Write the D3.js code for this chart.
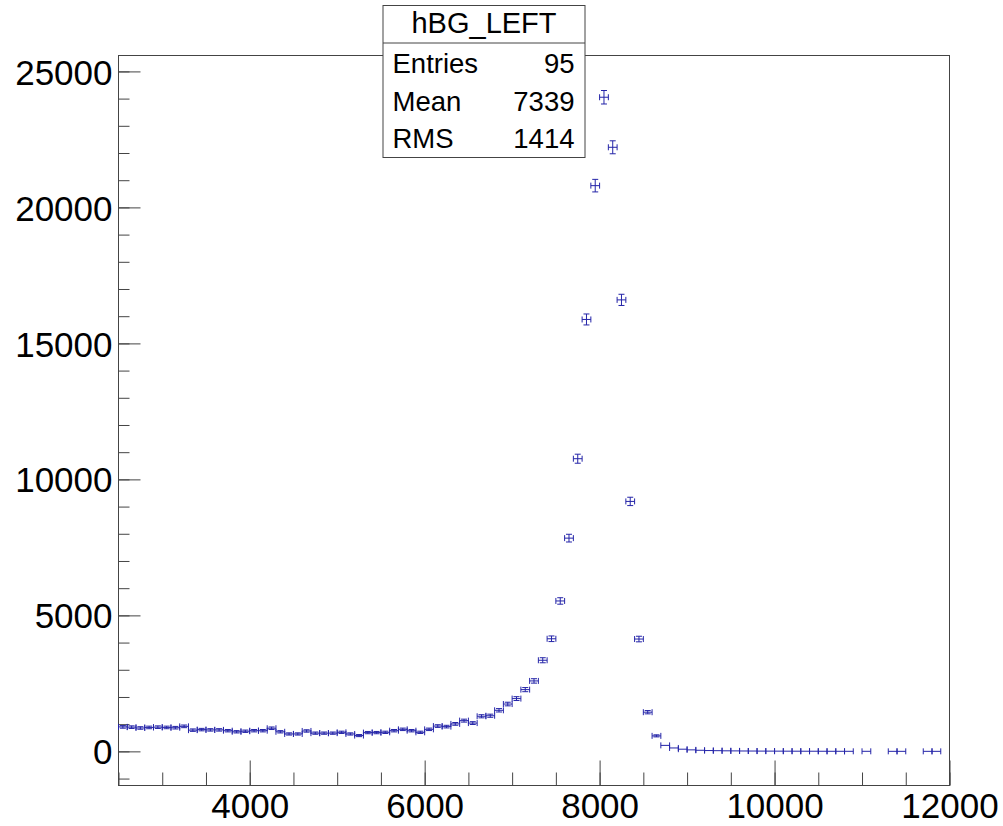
<!DOCTYPE html>
<html>
<head>
<meta charset="utf-8">
<script src="https://cdn.jsdelivr.net/npm/d3@7"></script>
<style>
	body { margin: 0; background: #fff; }
	svg text { font-family: "Liberation Sans", Arial, Helvetica, sans-serif; fill: #000; }
	.frame { fill: none; stroke: #444; stroke-width: 1; }
	.axis path { display: none; }
	.axis line { stroke: #444; stroke-width: 1; }
	.bin line { stroke: #2424a8; stroke-width: 1; }
</style>
</head>
<body>
<div id="histDiv"></div>
<script>
// histogram hBG_LEFT : bin centres and contents
const binCenters = [
	2550, 2650, 2750, 2850, 2950, 3050, 3150, 3250, 3350, 3450,
	3550, 3650, 3750, 3850, 3950, 4050, 4150, 4250, 4350, 4450,
	4550, 4650, 4750, 4850, 4950, 5050, 5150, 5250, 5350, 5450,
	5550, 5650, 5750, 5850, 5950, 6050, 6150, 6250, 6350, 6450,
	6550, 6650, 6750, 6850, 6950, 7050, 7150, 7250, 7350, 7450,
	7550, 7650, 7750, 7850, 7950, 8050, 8150, 8250, 8350, 8450,
	8550, 8650, 8750, 8850, 8950, 9050, 9150, 9250, 9350, 9450,
	9550, 9650, 9750, 9850, 9950, 10050, 10150, 10250, 10350, 10450,
	10550, 10650, 10750, 10850, 10950, 11050, 11150, 11250, 11350, 11450,
	11550, 11650, 11750, 11850, 11950
];
const binContents = [
	900, 890, 860, 880, 890, 880, 870, 920, 780, 800,
	790, 790, 760, 720, 740, 760, 760, 850, 720, 640,
	640, 750, 670, 670, 670, 700, 640, 580, 690, 690,
	700, 760, 810, 760, 700, 810, 930, 910, 1010, 1130,
	1040, 1290, 1310, 1510, 1740, 1940, 2270, 2590, 3350, 4140,
	5530, 7840, 10760, 15880, 20800, 24050, 22210, 16600, 9190, 4130,
	1440, 570, 220, 125, 80, 55, 40, 30, 25, 20,
	17, 14, 12, 10, 9, 8, 7, 6, 5, 5,
	4, 3, 3, 2, 0, 2, 0, 0, 1, 1,
	0, 0, 1, 1, 0
];
const binWidth = 100;
const fillWeight = 2.56;   // each fill had this weight -> error = sqrt(sum w^2)

const xTickValues = [4000, 6000, 8000, 10000, 12000];
const yTickValues = [0, 5000, 10000, 15000, 20000, 25000];
const xMinorValues = [2500, 3000, 3500, 4000, 4500, 5000, 5500, 6000, 6500, 7000, 7500, 8000, 8500, 9000, 9500, 10000, 10500, 11000, 11500, 12000];
const yMinorValues = [-1000, 0, 1000, 2000, 3000, 4000, 5000, 6000, 7000, 8000, 9000, 10000, 11000, 12000, 13000, 14000, 15000, 16000, 17000, 18000, 19000, 20000, 21000, 22000, 23000, 24000, 25000];

const histName = "hBG_LEFT";
const statLabels = ["Entries", "Mean", "RMS"];
const statValues = ["95", "7339", "1414"];

function drawHist(){
	let width = 1003, height = 826;
	let frameLeft = 118.5, frameRight = 949.5, frameTop = 55.5, frameBottom = 785.5;

	let svg = d3.select("#histDiv")
				.append("svg")
				.attr("width", width)
				.attr("height", height);

	let xScale = d3.scaleLinear()
				.domain([2500, 12000])
				.range([frameLeft, frameRight]);

	let yScale = d3.scaleLinear()
				.domain([-1255, 25585])
				.range([frameBottom, frameTop]);

	// frame
	svg.append("rect")
		.attr("class", "frame")
		.attr("x", frameLeft)
		.attr("y", frameTop)
		.attr("width", frameRight - frameLeft)
		.attr("height", frameBottom - frameTop);

	// minor ticks (inside the frame, like ROOT)
	svg.append("g")
		.attr("class", "axis")
		.attr("transform", "translate(0," + frameBottom + ")")
		.call(d3.axisBottom(xScale).tickValues(xMinorValues).tickSize(-13).tickFormat(""));
	svg.append("g")
		.attr("class", "axis")
		.attr("transform", "translate(" + frameLeft + ",0)")
		.call(d3.axisLeft(yScale).tickValues(yMinorValues).tickSize(-11).tickFormat(""));

	// major ticks + labels
	let xAxis = svg.append("g")
		.attr("class", "axis")
		.attr("transform", "translate(0," + frameBottom + ")")
		.call(d3.axisBottom(xScale).tickValues(xTickValues).tickSize(-25).tickPadding(7).tickFormat(d3.format("d")));
	xAxis.selectAll("text")
		.attr("dy", null)
		.attr("y", 32.5)
		.style("font-size", "35px");

	let yAxis = svg.append("g")
		.attr("class", "axis")
		.attr("transform", "translate(" + frameLeft + ",0)")
		.call(d3.axisLeft(yScale).tickValues(yTickValues).tickSize(-22).tickPadding(6).tickFormat(d3.format("d")));
	yAxis.selectAll("text")
		.attr("dy", "0.36em")
		.style("font-size", "35px");

	// error bars (E1 style, empty bins skipped)
	let binData = binCenters.map(function(c, i){ return {x: c, y: binContents[i]}; })
						.filter(function(d){ return d.y > 0; });

	let capPx = 3;
	let bins = svg.append("g")
				.attr("class", "bin")
				.selectAll("g")
				.data(binData)
				.enter().append("g");

	bins.each(function(d){
		let g = d3.select(this);
		let err = Math.sqrt(d.y * fillWeight);
		let x0 = xScale(d.x - binWidth / 2), x1 = xScale(d.x + binWidth / 2), xc = xScale(d.x);
		let yc = yScale(d.y), yLo = yScale(d.y - err), yHi = yScale(d.y + err);

		g.append("line").attr("x1", x0).attr("x2", x1).attr("y1", yc).attr("y2", yc);
		g.append("line").attr("x1", x0).attr("x2", x0).attr("y1", yc - capPx).attr("y2", yc + capPx);
		g.append("line").attr("x1", x1).attr("x2", x1).attr("y1", yc - capPx).attr("y2", yc + capPx);
		if (yLo - yHi > 1.5) {
			g.append("line").attr("x1", xc).attr("x2", xc).attr("y1", yHi).attr("y2", yLo);
			g.append("line").attr("x1", xc - capPx).attr("x2", xc + capPx).attr("y1", yHi).attr("y2", yHi);
			g.append("line").attr("x1", xc - capPx).attr("x2", xc + capPx).attr("y1", yLo).attr("y2", yLo);
		}
	});

	// stats box
	let boxX = 383, boxY = 5.5, boxW = 202, boxH = 152, titleH = 37.5;
	let stats = svg.append("g");
	stats.append("rect")
		.attr("x", boxX).attr("y", boxY)
		.attr("width", boxW).attr("height", boxH)
		.attr("fill", "#fff").attr("stroke", "#444").attr("stroke-width", 1);
	stats.append("line")
		.attr("x1", boxX).attr("x2", boxX + boxW)
		.attr("y1", boxY + titleH).attr("y2", boxY + titleH)
		.attr("stroke", "#444").attr("stroke-width", 1);
	stats.append("text")
		.attr("x", boxX + boxW / 2).attr("y", 32.5)
		.attr("text-anchor", "middle")
		.style("font-size", "29px")
		.text(histName);

	statLabels.forEach(function(lbl, i){
		let base = 73 + i * 37.6;
		stats.append("text")
			.attr("x", boxX + 9.5).attr("y", base)
			.style("font-size", "27.5px")
			.text(lbl);
		stats.append("text")
			.attr("x", boxX + boxW - 10.5).attr("y", base)
			.attr("text-anchor", "end")
			.style("font-size", "27.5px")
			.text(statValues[i]);
	});
}

drawHist();
</script>
</body>
</html>
